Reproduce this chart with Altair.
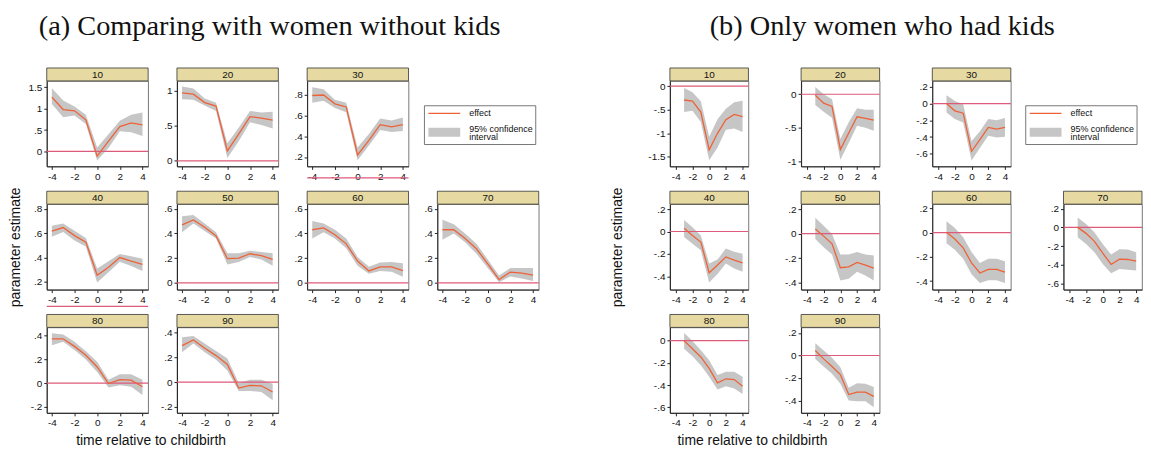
import altair as alt
import pandas as pd

# ---------------- data ----------------
TIMES_A = [-4, -3, -2, -1, 0, 1, 2, 3, 4]
TIMES_B = [-3, -2, -1, 0, 1, 2, 3, 4]
XTICKS = [-4, -2, 0, 2, 4]
XDOM_A = [-4.45, 4.5]
XDOM_B = [-4.7, 4.7]

TITLE_A = "(a) Comparing with women without kids"
TITLE_B = "(b) Only women who had kids"
Y_TITLE = "parameter estimate"
X_TITLE = "time relative to childbirth"
LEGEND_LABELS = ["effect", "95% confidence", "interval"]
PANEL_LABELS = ["10", "20", "30", "40", "50", "60", "70", "80", "90"]

# panel (a): comparing with women without kids
a10_effect = [1.27, 0.98, 0.95, 0.74, -0.11, 0.24, 0.58, 0.67, 0.62]
a10_lower = [1.11, 0.80, 0.84, 0.64, -0.21, 0.08, 0.47, 0.45, 0.36]
a10_upper = [1.48, 1.19, 1.05, 0.86, 0.09, 0.40, 0.72, 0.86, 0.91]
a20_effect = [0.97, 0.95, 0.83, 0.78, 0.14, 0.38, 0.63, 0.61, 0.58]
a20_lower = [0.88, 0.87, 0.79, 0.71, 0.04, 0.28, 0.55, 0.51, 0.46]
a20_upper = [1.06, 1.03, 0.89, 0.83, 0.25, 0.47, 0.71, 0.69, 0.70]
a30_effect = [0.79, 0.795, 0.71, 0.68, 0.22, 0.36, 0.51, 0.49, 0.51]
a30_lower = [0.72, 0.74, 0.67, 0.63, 0.17, 0.31, 0.46, 0.44, 0.45]
a30_upper = [0.87, 0.85, 0.75, 0.72, 0.29, 0.42, 0.57, 0.55, 0.58]
a40_effect = [0.616, 0.646, 0.58, 0.527, 0.255, 0.32, 0.40, 0.37, 0.345]
a40_lower = [0.57, 0.61, 0.54, 0.49, 0.195, 0.28, 0.365, 0.33, 0.29]
a40_upper = [0.66, 0.68, 0.62, 0.56, 0.31, 0.37, 0.43, 0.41, 0.39]
a50_effect = [0.47, 0.51, 0.45, 0.38, 0.196, 0.20, 0.236, 0.22, 0.19]
a50_lower = [0.41, 0.48, 0.42, 0.36, 0.15, 0.17, 0.21, 0.19, 0.14]
a50_upper = [0.54, 0.55, 0.48, 0.41, 0.24, 0.24, 0.26, 0.25, 0.24]
a60_effect = [0.43, 0.445, 0.39, 0.316, 0.177, 0.097, 0.13, 0.13, 0.10]
a60_lower = [0.36, 0.41, 0.36, 0.28, 0.14, 0.075, 0.097, 0.09, 0.05]
a60_upper = [0.50, 0.48, 0.43, 0.36, 0.21, 0.13, 0.166, 0.17, 0.16]
a70_effect = [0.43, 0.43, 0.36, 0.276, 0.155, 0.027, 0.088, 0.08, 0.064]
a70_lower = [0.35, 0.40, 0.33, 0.236, 0.12, 0.005, 0.053, 0.035, 0.016]
a70_upper = [0.51, 0.475, 0.40, 0.316, 0.19, 0.06, 0.12, 0.12, 0.12]
a80_effect = [0.374, 0.374, 0.31, 0.235, 0.137, -0.003, 0.03, 0.025, -0.03]
a80_lower = [0.32, 0.35, 0.28, 0.20, 0.095, -0.036, -0.017, -0.03, -0.10]
a80_upper = [0.42, 0.41, 0.35, 0.27, 0.18, 0.03, 0.075, 0.075, 0.03]
a90_effect = [0.293, 0.339, 0.272, 0.213, 0.141, -0.048, -0.027, -0.03, -0.08]
a90_lower = [0.24, 0.31, 0.24, 0.18, 0.093, -0.072, -0.072, -0.08, -0.147]
a90_upper = [0.36, 0.37, 0.31, 0.25, 0.19, -0.008, 0.019, 0.019, -0.013]

# panel (b): only women who had kids
b10_effect = [-0.294, -0.32, -0.55, -1.35, -1.0, -0.71, -0.60, -0.645]
b10_lower = [-0.55, -0.52, -0.76, -1.57, -1.3, -0.925, -0.90, -0.97]
b10_upper = [-0.04, -0.13, -0.32, -1.07, -0.7, -0.48, -0.34, -0.31]
b20_effect = [-0.015, -0.134, -0.183, -0.827, -0.58, -0.337, -0.36, -0.386]
b20_lower = [-0.16, -0.26, -0.35, -0.98, -0.73, -0.47, -0.50, -0.545]
b20_upper = [0.11, 0.0, -0.075, -0.67, -0.42, -0.21, -0.23, -0.23]
b30_effect = [0.0, -0.087, -0.115, -0.57, -0.43, -0.285, -0.305, -0.285]
b30_lower = [-0.107, -0.186, -0.226, -0.68, -0.53, -0.384, -0.404, -0.396]
b30_upper = [0.10, 0.03, -0.008, -0.45, -0.33, -0.186, -0.198, -0.174]
b40_effect = [0.03, -0.035, -0.094, -0.369, -0.30, -0.227, -0.255, -0.28]
b40_lower = [-0.05, -0.11, -0.168, -0.457, -0.38, -0.286, -0.33, -0.36]
b40_upper = [0.103, 0.038, -0.035, -0.286, -0.25, -0.153, -0.18, -0.20]
b50_effect = [0.038, -0.02, -0.083, -0.277, -0.27, -0.234, -0.256, -0.28]
b50_lower = [-0.043, -0.11, -0.17, -0.38, -0.366, -0.31, -0.34, -0.38]
b50_upper = [0.13, 0.065, -0.003, -0.17, -0.17, -0.15, -0.17, -0.177]
b60_effect = [0.003, -0.052, -0.126, -0.25, -0.333, -0.303, -0.303, -0.325]
b60_lower = [-0.087, -0.142, -0.216, -0.344, -0.415, -0.393, -0.393, -0.415]
b60_upper = [0.093, 0.038, -0.038, -0.16, -0.25, -0.216, -0.216, -0.235]
b70_effect = [0.0, -0.064, -0.149, -0.276, -0.396, -0.34, -0.343, -0.36]
b70_lower = [-0.106, -0.177, -0.265, -0.39, -0.49, -0.446, -0.453, -0.46]
b70_upper = [0.106, 0.035, -0.053, -0.177, -0.29, -0.234, -0.237, -0.265]
b80_effect = [0.0, -0.072, -0.146, -0.25, -0.38, -0.343, -0.35, -0.41]
b80_lower = [-0.072, -0.14, -0.22, -0.325, -0.44, -0.41, -0.43, -0.48]
b80_upper = [0.069, -0.003, -0.087, -0.176, -0.31, -0.28, -0.28, -0.325]
b90_effect = [0.044, -0.03, -0.098, -0.169, -0.347, -0.326, -0.326, -0.364]
b90_lower = [-0.03, -0.098, -0.163, -0.252, -0.40, -0.406, -0.406, -0.459]
b90_upper = [0.11, 0.044, -0.02, -0.104, -0.287, -0.246, -0.252, -0.281]

# y-axis ranges and tick values of each panel
a_ydomains = [[-0.35, 1.65], [-0.08, 1.14], [0.11, 0.93], [0.137, 0.838], [-0.054, 0.637],
              [-0.054, 0.637], [-0.054, 0.637], [-0.25, 0.47], [-0.248, 0.44]]
a_yticks = [[0, 0.5, 1, 1.5], [0, 0.5, 1], [0.2, 0.4, 0.6, 0.8], [0.2, 0.4, 0.6, 0.8],
            [0, 0.2, 0.4, 0.6], [0, 0.2, 0.4, 0.6], [0, 0.2, 0.4, 0.6],
            [-0.2, 0, 0.2, 0.4], [-0.2, 0, 0.2, 0.4]]
b_ydomains = [[-1.70, 0.11], [-1.08, 0.2], [-0.75, 0.27], [-0.52, 0.245], [-0.455, 0.24],
              [-0.47, 0.235], [-0.665, 0.248], [-0.65, 0.12], [-0.51, 0.25]]
b_yticks = [[-1.5, -1, -0.5, 0], [-1, -0.5, 0], [-0.6, -0.4, -0.2, 0, 0.2],
            [-0.4, -0.2, 0, 0.2], [-0.4, -0.2, 0, 0.2], [-0.4, -0.2, 0, 0.2],
            [-0.6, -0.4, -0.2, 0, 0.2], [-0.6, -0.4, -0.2, 0], [-0.4, -0.2, 0, 0.2]]

# ---------------- style ----------------
SANS = "Liberation Sans"
SERIF = "Liberation Serif"
EFF = "#EE6238"
CI_GRAY = "#C6C6C6"
ZERO = "#DE5A7A"
STRIP = "#E6DAA2"
H = 86
STRIP_H = 13
W_A = 102
W_B = 79
LBL = "replace(toString(datum.value), '0.', '.')"
XLBL = "toString(datum.value)"


def y_axis(ticks, title=None, tx=0):
    kw = dict(values=ticks, labelExpr=LBL, grid=False, tickSize=3, labelPadding=2, title=title)
    if title:
        kw.update(titleX=tx, titleY=H / 2, titleAngle=270, titleAlign="center",
                  titleBaseline="middle", titleFontSize=14, titleFontWeight="normal",
                  titleFont=SANS, titleColor="#111")
    return alt.Axis(**kw)


def x_axis(title=None, tx=0):
    kw = dict(values=XTICKS, labelExpr=XLBL, grid=False, tickSize=3, labelPadding=2,
              labelFlush=False, title=title)
    if title:
        kw.update(titleX=tx, titleY=28, titleAlign="center", titleBaseline="middle",
                  titleFontSize=14, titleFontWeight="normal", titleFont=SANS, titleColor="#111")
    return alt.Axis(**kw)


def panel(label, times, eff, lo, hi, ydom, yticks, xdom, w,
          ytitle=None, ytx=0, xtitle=None, xtx=0, head=None, head_x=0):
    df = pd.DataFrame({"t": times, "effect": eff, "lower": lo, "upper": hi})
    xs = alt.Scale(domain=xdom, nice=False, zero=False)
    ys = alt.Scale(domain=ydom, nice=False, zero=False)
    xa = x_axis(xtitle, xtx)
    ya = y_axis(yticks, ytitle, ytx)
    X = alt.X("t:Q", scale=xs, axis=xa)
    band = alt.Chart(df).mark_area(color=CI_GRAY, opacity=1).encode(
        x=X, y=alt.Y("lower:Q", scale=ys, axis=ya), y2="upper:Q")
    zero = alt.Chart(pd.DataFrame({"zero": [0.0]})).mark_rule(color=ZERO, strokeWidth=1.2).encode(
        y=alt.Y("zero:Q", scale=ys, axis=ya))
    line = alt.Chart(df).mark_line(color=EFF, strokeWidth=1.3).encode(
        x=X, y=alt.Y("effect:Q", scale=ys, axis=ya))
    lab = alt.Chart(pd.DataFrame({"label": [label]}))
    strip = lab.mark_rect(fill=STRIP, stroke="#333", strokeWidth=0.8).encode(
        x=alt.value(0), x2=alt.value(w), y=alt.value(-STRIP_H), y2=alt.value(0))
    stext = lab.mark_text(font=SANS, fontSize=10, color="#111", baseline="middle").encode(
        text="label:N", x=alt.value(w / 2), y=alt.value(-STRIP_H / 2 + 0.5))
    layers = [band, zero, line, strip, stext]
    if head:
        layers.append(alt.Chart(pd.DataFrame({"head": [head]})).mark_text(
            font=SERIF, fontSize=28.5, color="#111", align="left", baseline="alphabetic").encode(
            text="head:N", x=alt.value(head_x), y=alt.value(-46)))
    return alt.layer(*layers).properties(width=w, height=H)


def legend_cell(w, x0):
    base = alt.Chart(pd.DataFrame({"k": [0]}))
    box = base.mark_rect(fill="white", stroke="#555", strokeWidth=0.8).encode(
        x=alt.value(x0), x2=alt.value(x0 + 112), y=alt.value(25), y2=alt.value(64))
    l1 = base.mark_rule(color=EFF, strokeWidth=1.2).encode(
        x=alt.value(x0 + 4), x2=alt.value(x0 + 36), y=alt.value(32.7))
    l2 = base.mark_rule(color=CI_GRAY, strokeWidth=9).encode(
        x=alt.value(x0 + 4), x2=alt.value(x0 + 36), y=alt.value(51.7))
    txt = []
    for s, yy in zip(LEGEND_LABELS, [32.7, 48.3, 56.8]):
        txt.append(base.mark_text(font=SANS, fontSize=9, color="#111", align="left",
                                  baseline="middle").encode(
            text=alt.value(s), x=alt.value(x0 + 45), y=alt.value(yy)))
    return alt.layer(box, l1, l2, *txt).properties(
        width=w, height=H, view=alt.ViewBackground(strokeOpacity=0))


a_data = [(a10_effect, a10_lower, a10_upper), (a20_effect, a20_lower, a20_upper),
          (a30_effect, a30_lower, a30_upper), (a40_effect, a40_lower, a40_upper),
          (a50_effect, a50_lower, a50_upper), (a60_effect, a60_lower, a60_upper),
          (a70_effect, a70_lower, a70_upper), (a80_effect, a80_lower, a80_upper),
          (a90_effect, a90_lower, a90_upper)]
b_data = [(b10_effect, b10_lower, b10_upper), (b20_effect, b20_lower, b20_upper),
          (b30_effect, b30_lower, b30_upper), (b40_effect, b40_lower, b40_upper),
          (b50_effect, b50_lower, b50_upper), (b60_effect, b60_lower, b60_upper),
          (b70_effect, b70_lower, b70_upper), (b80_effect, b80_lower, b80_upper),
          (b90_effect, b90_lower, b90_upper)]


def group(data, times, ydoms, yticks, xdom, w, head, head_x, ytx, xtx, leg_x0, colsp):
    panels = []
    for i, (e, lo, hi) in enumerate(data):
        kw = {}
        if i == 0:
            kw.update(head=head, head_x=head_x)
        if i == 3:
            kw.update(ytitle=Y_TITLE, ytx=ytx)
        if i == 7:
            kw.update(xtitle=X_TITLE, xtx=xtx)
        panels.append(panel(PANEL_LABELS[i], times, e, lo, hi, ydoms[i], yticks[i], xdom, w, **kw))
    cells = panels[:3] + [legend_cell(w, leg_x0)] + panels[3:]
    return alt.concat(*cells, columns=4, spacing={"row": 38, "column": colsp}, bounds="flush")


gA = group(a_data, TIMES_A, a_ydomains, a_yticks, XDOM_A, W_A, TITLE_A, -8, -31.5, 104.5, -13, 29)
gB = group(b_data, TIMES_B, b_ydomains, b_yticks, XDOM_B, W_B, TITLE_B, 40, -53, 82.5, -38, 53)

chart = alt.hconcat(gA, gB, spacing=70).properties(
    padding={"left": 0, "top": 2, "right": 0, "bottom": 0}
).configure_view(stroke="#555", strokeWidth=0.8).configure_axis(
    labelFont=SANS, labelFontSize=10, labelColor="#111", domainColor="#222", tickColor="#222"
)

chart.save("out.html", embed_options={"renderer": "svg", "actions": False})
